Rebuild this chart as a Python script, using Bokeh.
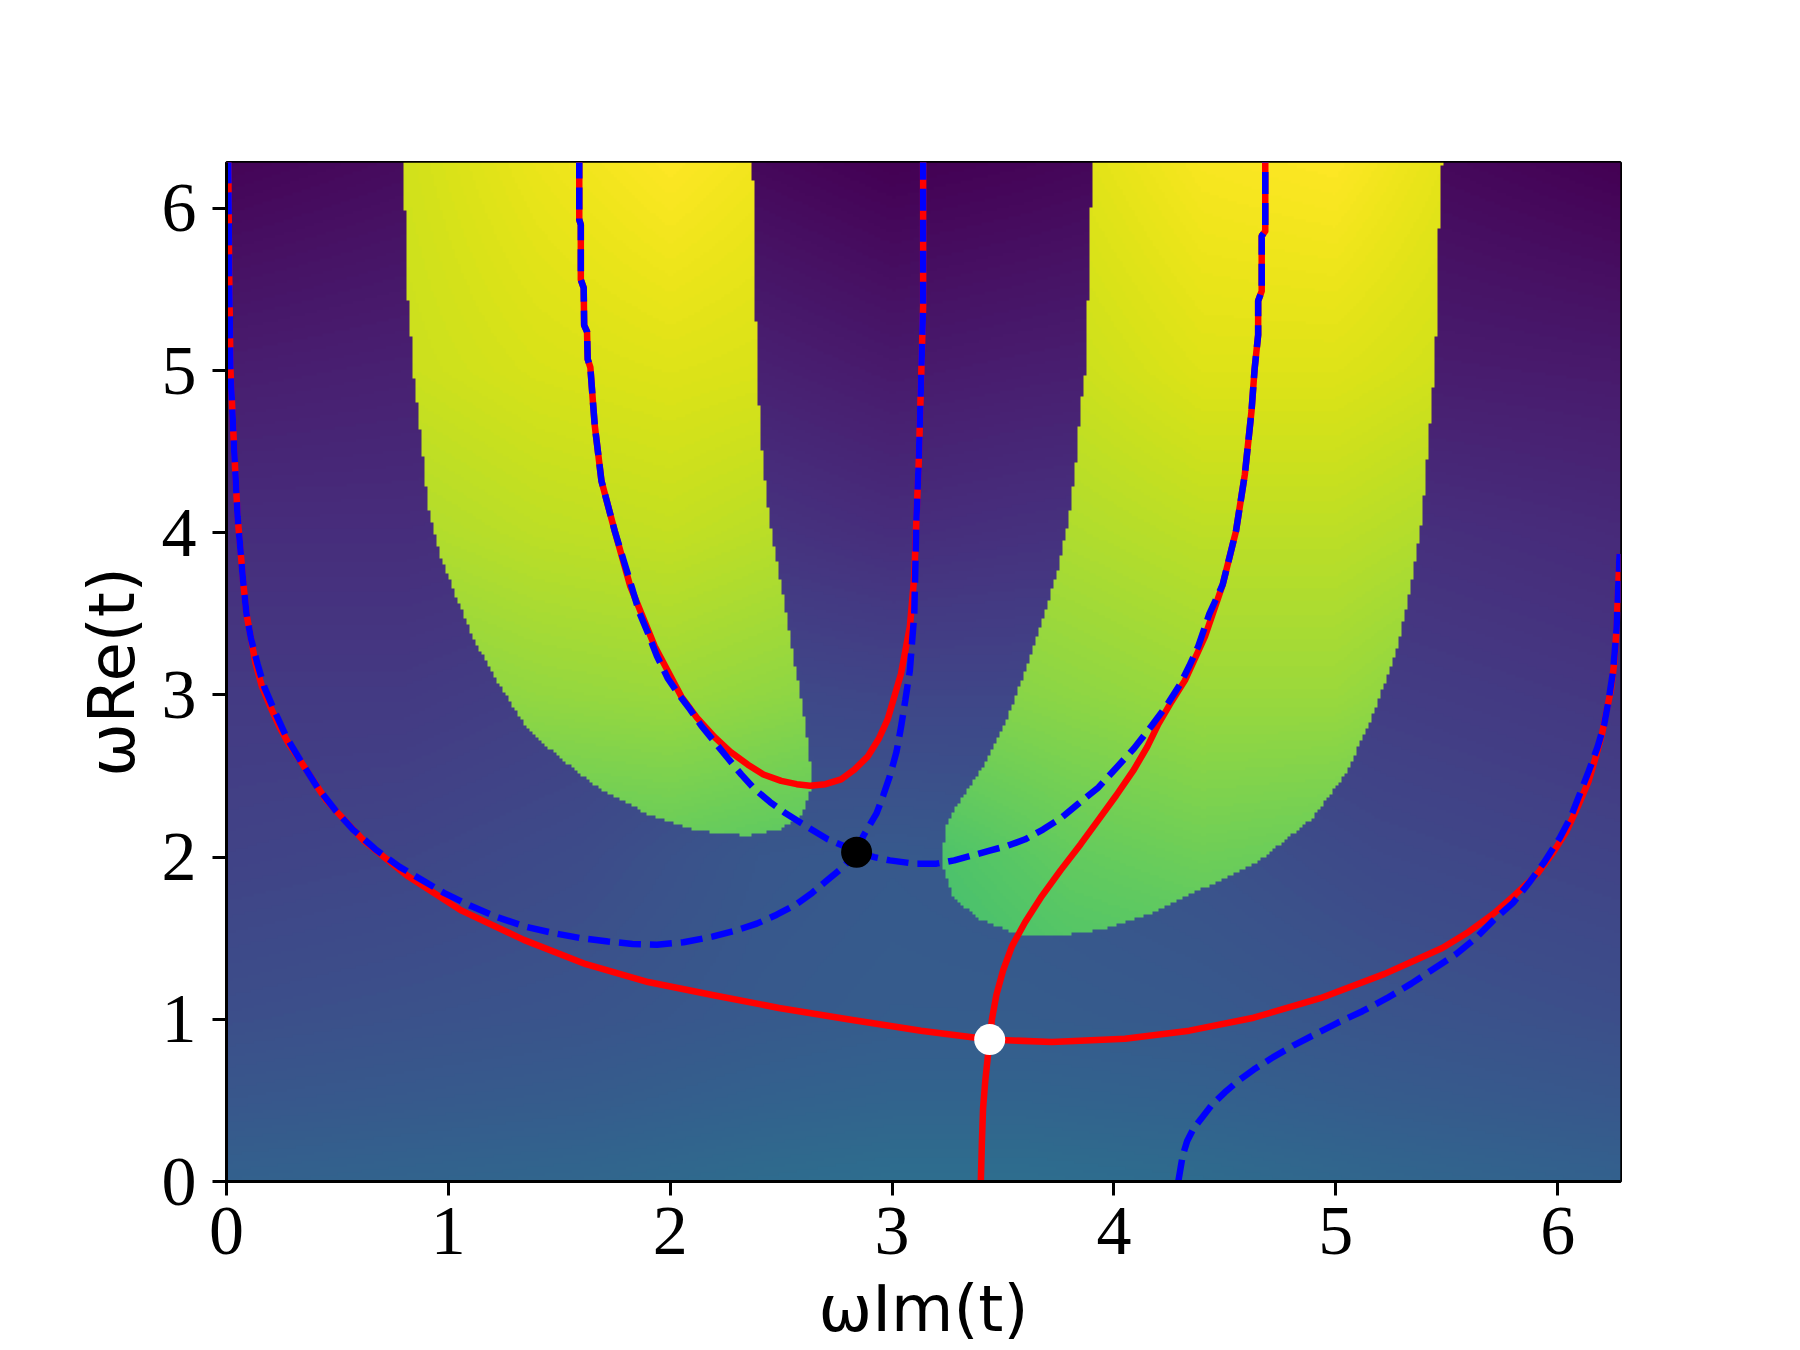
import numpy as np
from bokeh.plotting import figure
from bokeh.models import LinearColorMapper, FixedTicker, Range1d
from bokeh.palettes import Viridis256
from bokeh.embed import file_html
from bokeh.resources import INLINE

TWO_PI = 2 * np.pi

# ---------------- tick labels / axis texts ----------------
X_TICKS = [0, 1, 2, 3, 4, 5, 6]
Y_TICKS = [0, 1, 2, 3, 4, 5, 6]
X_LABEL = "ωIm(t)"
Y_LABEL = "ωRe(t)"

# ---------------- background field (viridis level) ----------------
BG_X = [0.0, 0.8, 1.6, 2.4, 3.0, 3.6, 4.4, 5.2, 6.2832]
BG_Y = [0.0, 0.5, 1.0, 2.0, 3.0, 4.0, 5.0, 6.2832]
BG_V = [
    [0.31, 0.32, 0.33, 0.35, 0.36, 0.36, 0.35, 0.33, 0.31],
    [0.27, 0.28, 0.29, 0.31, 0.32, 0.32, 0.31, 0.29, 0.27],
    [0.24, 0.25, 0.26, 0.28, 0.29, 0.29, 0.28, 0.26, 0.24],
    [0.20, 0.21, 0.23, 0.27, 0.28, 0.27, 0.25, 0.22, 0.20],
    [0.17, 0.17, 0.19, 0.22, 0.21, 0.21, 0.20, 0.18, 0.16],
    [0.13, 0.13, 0.14, 0.15, 0.13, 0.14, 0.15, 0.14, 0.12],
    [0.08, 0.09, 0.09, 0.09, 0.07, 0.08, 0.09, 0.08, 0.07],
    [0.01, 0.03, 0.03, 0.02, 0.00, 0.01, 0.03, 0.03, 0.00],
]

# ---------------- band field (viridis level inside the bright bands) ----------------
BAND_X = [0.8, 1.4, 2.0, 2.6, 3.2, 3.8, 4.4, 5.0, 5.5]
BAND_Y = [1.4, 2.0, 3.0, 4.0, 5.0, 6.2832]
BAND_V = [
    [0.70, 0.72, 0.73, 0.71, 0.70, 0.73, 0.74, 0.74, 0.72],
    [0.73, 0.75, 0.76, 0.74, 0.72, 0.76, 0.78, 0.77, 0.75],
    [0.82, 0.84, 0.85, 0.83, 0.81, 0.83, 0.85, 0.85, 0.82],
    [0.88, 0.90, 0.91, 0.89, 0.86, 0.88, 0.90, 0.90, 0.88],
    [0.92, 0.94, 0.95, 0.94, 0.90, 0.92, 0.95, 0.95, 0.93],
    [0.93, 0.97, 1.00, 0.97, 0.93, 0.95, 0.99, 1.00, 0.96],
]

# ---------------- band outlines ----------------
BAND1_X = [0.80, 0.80, 0.81, 0.83, 0.84, 0.87, 0.91, 0.96, 1.04, 1.11, 1.22, 1.34, 1.49, 1.67,
           1.90, 2.12, 2.35, 2.50, 2.59, 2.63, 2.63, 2.61, 2.56, 2.50, 2.45, 2.42, 2.40, 2.39,
           2.38, 2.37, 2.37]
BAND1_Y = [6.40, 6.28, 5.54, 5.23, 5.00, 4.66, 4.15, 3.87, 3.59, 3.36, 3.08, 2.82, 2.62, 2.43,
           2.26, 2.16, 2.13, 2.17, 2.26, 2.40, 2.57, 2.79, 3.19, 3.67, 4.04, 4.38, 4.72, 5.09,
           5.51, 6.28, 6.40]
BAND2_X = [3.91, 3.91, 3.89, 3.88, 3.85, 3.83, 3.80, 3.75, 3.68, 3.60, 3.51, 3.41, 3.30, 3.24,
           3.23, 3.28, 3.39, 3.57, 3.73, 3.94, 4.17, 4.41, 4.65, 4.89, 5.05, 5.18, 5.28, 5.34,
           5.39, 5.42, 5.45, 5.46, 5.48, 5.48]
BAND2_Y = [6.40, 6.28, 5.82, 5.07, 4.75, 4.43, 4.10, 3.78, 3.46, 3.14, 2.81, 2.55, 2.33, 2.17,
           1.94, 1.75, 1.62, 1.52, 1.51, 1.55, 1.65, 1.81, 1.97, 2.23, 2.52, 2.91, 3.30, 3.68,
           4.10, 4.59, 5.07, 5.72, 6.28, 6.40]

# ---------------- red (solid) curves ----------------
R1_X = [0.008, 0.012, 0.018, 0.035, 0.05, 0.075, 0.09, 0.11, 0.13, 0.16, 0.20, 0.24, 0.28, 0.33,
        0.45, 0.62, 0.82, 1.06, 1.34, 1.62, 1.90, 2.19, 2.49, 2.80, 3.13, 3.44, 3.72, 4.05,
        4.34, 4.63, 4.93, 5.22, 5.35, 5.48, 5.60, 5.71, 5.81, 5.91, 5.98, 6.04, 6.09, 6.14,
        6.17, 6.20, 6.22, 6.24, 6.255, 6.265, 6.279]
R1_Y = [6.29, 5.60, 5.00, 4.50, 4.10, 3.70, 3.50, 3.35, 3.20, 3.05, 2.92, 2.80, 2.70, 2.60,
        2.35, 2.10, 1.88, 1.67, 1.49, 1.34, 1.23, 1.15, 1.07, 1.00, 0.93, 0.875, 0.86, 0.88,
        0.93, 1.01, 1.13, 1.28, 1.36, 1.44, 1.54, 1.65, 1.77, 1.90, 2.03, 2.16, 2.31, 2.47,
        2.61, 2.76, 2.90, 3.03, 3.20, 3.40, 3.87]
R2_X = [3.44, 3.45, 3.47, 3.50, 3.54, 3.60, 3.67, 3.76, 3.85, 3.93, 4.01, 4.09, 4.15, 4.20,
        4.26, 4.32, 4.41, 4.49, 4.55, 4.59, 4.62, 4.634, 4.650, 4.650, 4.666, 4.666, 4.682,
        4.682]
R2_Y = [0.875, 1.00, 1.15, 1.30, 1.45, 1.60, 1.75, 1.92, 2.08, 2.23, 2.38, 2.54, 2.68, 2.82,
        2.96, 3.09, 3.36, 3.68, 4.01, 4.36, 4.75, 5.01, 5.22, 5.43, 5.49, 5.83, 5.86, 6.29]
R3_X = [3.44, 3.43, 3.42, 3.41, 3.405, 3.40]
R3_Y = [0.875, 0.75, 0.62, 0.45, 0.25, 0.00]
R4_X = [1.590, 1.590, 1.597, 1.597, 1.610, 1.612, 1.625, 1.628, 1.640, 1.652, 1.66, 1.69,
        1.75, 1.82, 1.93, 2.05, 2.12, 2.20, 2.27, 2.35, 2.42, 2.50, 2.57, 2.63, 2.70, 2.77,
        2.83, 2.89, 2.94, 2.98, 3.01, 3.04, 3.08, 3.10, 3.11, 3.12, 3.13, 3.14, 3.14, 3.14]
R4_Y = [6.29, 5.93, 5.90, 5.56, 5.51, 5.28, 5.24, 5.07, 5.02, 4.80, 4.66, 4.32,
        4.01, 3.67, 3.30, 2.99, 2.86, 2.74, 2.65, 2.57, 2.51, 2.47, 2.45, 2.44, 2.45, 2.48,
        2.54, 2.62, 2.73, 2.85, 2.99, 3.13, 3.42, 3.73, 4.10, 4.43, 4.91, 5.40, 5.72, 6.29]

# ---------------- blue (dashed) curves ----------------
B1_X = [0.008, 0.012, 0.018, 0.035, 0.05, 0.075, 0.09, 0.11, 0.14, 0.17, 0.22, 0.27, 0.34,
        0.41, 0.49, 0.57, 0.67, 0.78, 0.88, 0.98, 1.10, 1.22, 1.35, 1.48, 1.60, 1.72, 1.83,
        1.94, 2.06, 2.19, 2.29, 2.39, 2.48, 2.57, 2.64, 2.71, 2.78, 2.84]
B1_Y = [6.29, 5.60, 5.00, 4.50, 4.10, 3.70, 3.50, 3.35, 3.19, 3.05, 2.89, 2.74, 2.58,
        2.43, 2.29, 2.17, 2.05, 1.94, 1.86, 1.78, 1.70, 1.63, 1.57, 1.53, 1.50, 1.48, 1.465,
        1.46, 1.475, 1.51, 1.545, 1.59, 1.645, 1.71, 1.78, 1.86, 1.94, 2.03]
B2_X = [2.84, 2.87, 2.93, 2.96, 2.99, 3.02, 3.04, 3.06, 3.08, 3.10, 3.11, 3.12, 3.13, 3.14,
        3.14, 3.14]
B2_Y = [2.03, 2.13, 2.27, 2.38, 2.50, 2.65, 2.80, 2.97, 3.15, 3.50, 4.10, 4.43, 4.91, 5.40,
        5.72, 6.29]
B3_X = [2.84, 2.78, 2.71, 2.65, 2.59, 2.52, 2.45, 2.38, 2.32, 2.26, 2.20, 2.14, 2.09, 2.04,
        1.99, 1.94, 1.90, 1.86, 1.83, 1.79, 1.75, 1.69, 1.66, 1.652, 1.640, 1.628, 1.625,
        1.612, 1.610, 1.597, 1.597, 1.590, 1.590]
B3_Y = [2.03, 2.07, 2.11, 2.16, 2.21, 2.27, 2.34, 2.42, 2.51, 2.61, 2.71, 2.81, 2.91, 3.00,
        3.10, 3.24, 3.38, 3.51, 3.65, 3.83, 4.01, 4.32, 4.66, 4.80, 5.02, 5.07, 5.24,
        5.28, 5.51, 5.56, 5.90, 5.93, 6.29]
B4_X = [2.84, 2.92, 2.99, 3.10, 3.20, 3.28, 3.36, 3.44, 3.52, 3.60, 3.68, 3.76, 3.84, 3.93,
        4.01, 4.09, 4.17, 4.24, 4.30, 4.34, 4.38, 4.43, 4.49, 4.55, 4.59, 4.62, 4.634, 4.650,
        4.650, 4.666, 4.666, 4.682, 4.682]
B4_Y = [2.03, 2.00, 1.98, 1.96, 1.96, 1.98, 2.01, 2.04, 2.07, 2.11, 2.17, 2.24, 2.33, 2.43,
        2.55, 2.67, 2.81, 2.94, 3.07, 3.18, 3.30, 3.50, 3.68, 4.01, 4.36, 4.75, 5.01, 5.22,
        5.43, 5.49, 5.83, 5.86, 6.29]
B5_X = [4.29, 4.30, 4.31, 4.33, 4.36, 4.40, 4.44, 4.50, 4.56, 4.63, 4.71, 4.81, 4.91, 5.01,
        5.12, 5.23, 5.34, 5.44, 5.54, 5.63, 5.71, 5.80, 5.87, 5.94, 6.01, 6.06, 6.10, 6.14,
        6.18, 6.21, 6.23, 6.25, 6.265, 6.279]
B5_Y = [0.00, 0.08, 0.16, 0.25, 0.33, 0.40, 0.47, 0.55, 0.62, 0.69, 0.76, 0.84, 0.91, 0.98,
        1.05, 1.13, 1.22, 1.31, 1.40, 1.50, 1.61, 1.72, 1.84, 1.97, 2.12, 2.25, 2.39, 2.53,
        2.68, 2.82, 2.97, 3.15, 3.40, 3.87]

# ---------------- saddle points ----------------
BLACK_PT = (2.84, 2.03)
WHITE_PT = (3.44, 0.875)


# ---------------- build raster from the read values ----------------
def grid_field(gx, gy, gv, xc, yc):
    gv = np.asarray(gv, dtype=float)
    rows = np.array([np.interp(xc, gx, r) for r in gv])
    out = np.empty((len(yc), len(xc)))
    for j in range(len(xc)):
        out[:, j] = np.interp(yc, gy, rows[:, j])
    return out


def inside(px, py, vx, vy):
    vx = np.asarray(vx, float)
    vy = np.asarray(vy, float)
    res = np.zeros(px.shape, bool)
    n = len(vx)
    j = n - 1
    for i in range(n):
        xi, yi, xj, yj = vx[i], vy[i], vx[j], vy[j]
        cond = (yi > py) != (yj > py)
        denom = (yj - yi) if (yj - yi) != 0 else 1e-12
        xint = (xj - xi) * (py - yi) / denom + xi
        res ^= cond & (px < xint)
        j = i
    return res


NX, NY = 465, 340
xc = (np.arange(NX) + 0.5) * TWO_PI / NX
yc = (np.arange(NY) + 0.5) * TWO_PI / NY
PX, PY = np.meshgrid(xc, yc)
field = grid_field(BG_X, BG_Y, BG_V, xc, yc)
band = grid_field(BAND_X, BAND_Y, BAND_V, xc, yc)
mask = inside(PX, PY, BAND1_X, BAND1_Y) | inside(PX, PY, BAND2_X, BAND2_Y)
field[mask] = band[mask]

# ---------------- figure ----------------
p = figure(width=1800, height=1350, output_backend="svg", toolbar_location=None,
           x_range=Range1d(0, TWO_PI), y_range=Range1d(0, TWO_PI),
           min_border_left=226, min_border_right=180, min_border_top=162, min_border_bottom=169)
p.background_fill_color = "white"
p.border_fill_color = "white"
p.grid.visible = False
p.outline_line_color = "black"
p.outline_line_width = 3
p.outline_line_alpha = 1.0

mapper = LinearColorMapper(palette=Viridis256, low=0.0, high=1.0)
p.image(image=[field.astype(np.float32)], x=0, y=0, dw=TWO_PI, dh=TWO_PI, color_mapper=mapper)

LW = 6.5
for xs, ys in [(R1_X, R1_Y), (R2_X, R2_Y), (R3_X, R3_Y), (R4_X, R4_Y)]:
    p.line(xs, ys, line_color="red", line_width=LW, line_join="round")
for xs, ys in [(B1_X, B1_Y), (B2_X, B2_Y), (B3_X, B3_Y), (B4_X, B4_Y), (B5_X, B5_Y)]:
    p.line(xs, ys, line_color="blue", line_width=LW, line_dash="22 9")

p.scatter([BLACK_PT[0]], [BLACK_PT[1]], size=31, fill_color="black", line_color=None)
p.scatter([WHITE_PT[0]], [WHITE_PT[1]], size=31, fill_color="white", line_color=None)

p.xaxis.ticker = FixedTicker(ticks=X_TICKS)
p.yaxis.ticker = FixedTicker(ticks=Y_TICKS)
for ax in (p.xaxis[0], p.yaxis[0]):
    ax.major_label_text_font = "Liberation Serif"
    ax.major_label_text_font_size = "70px"
    ax.major_label_text_color = "black"
    ax.major_tick_out = 14
    ax.major_tick_in = 0
    ax.major_tick_line_width = 3
    ax.major_tick_line_color = "black"
    ax.minor_tick_line_color = None
    ax.axis_line_width = 3
    ax.axis_line_color = "black"
    ax.axis_label_text_font = "DejaVu Sans"
    ax.axis_label_text_font_size = "64px"
    ax.axis_label_text_font_style = "normal"
    ax.axis_label_text_color = "black"
p.xaxis.major_label_standoff = 12
p.yaxis.major_label_standoff = 16

p.yaxis.axis_label = Y_LABEL
p.yaxis.axis_label_standoff = 10
p.xaxis.axis_label = X_LABEL
p.xaxis.axis_label_standoff = 15

open("out.html", "w").write(file_html(p, INLINE))
